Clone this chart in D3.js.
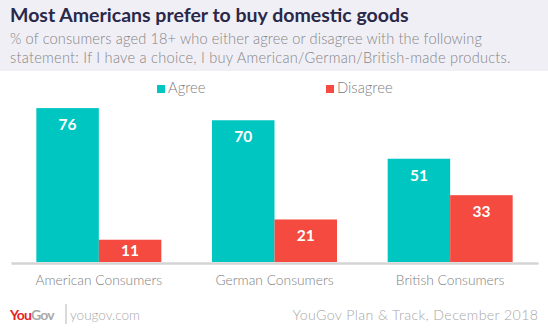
<!DOCTYPE html>
<html><head><meta charset="utf-8">
<script src="https://cdn.jsdelivr.net/npm/d3@7"></script>
<style>
html,body{margin:0;padding:0;background:#fff;}
svg{display:block;font-family:Lato,"Open Sans",sans-serif;}
</style></head>
<body>
<svg id="chart" width="548" height="334"></svg>
<script>
const categories = ["American Consumers", "German Consumers", "British Consumers"];
const seriesNames = ["Agree", "Disagree"];
const agree = [76, 70, 51];
const disagree = [11, 21, 33];
const colors = ["#00c6c2", "#f44a3f"];

const svg = d3.select("#chart");
const W = 548, H = 334;

// header
svg.append("rect").attr("x",0).attr("y",0).attr("width",W).attr("height",71).attr("fill","#f0eff5");
svg.append("text").attr("x",10).attr("y",22).attr("font-size",19.5).attr("font-weight","bold")
  .attr("fill","#2a2848").text("Most Americans prefer to buy domestic goods");
const sub1 = svg.append("text").attr("x",10).attr("y",44).attr("font-size",14.6).attr("font-weight",300).attr("fill","#858585")
  .text("% of consumers aged 18+ who either agree or disagree with the following");
const sub2 = svg.append("text").attr("x",10).attr("y",63).attr("font-size",14.6).attr("font-weight",300).attr("fill","#858585")
  .text("statement: If I have a choice, I buy American/German/British-made products.");
// stretch subtitle lines to reference widths
[[sub1, 472], [sub2, 501]].forEach(([t, w]) => {
  const cur = t.node().getComputedTextLength();
  const n = t.text().length;
  t.attr("letter-spacing", (w - cur) / n);
});

const x0 = d3.scaleBand().domain(categories).range([11, 538]).paddingInner(0.2885).paddingOuter(0.1443);
const x1 = d3.scaleBand().domain(seriesNames).range([0, x0.bandwidth()]);
const y = d3.scaleLinear().domain([0, 100]).range([262, 59.5]);

const data = categories.map((c,i)=>({cat:c, vals:[{s:"Agree",v:agree[i]},{s:"Disagree",v:disagree[i]}]}));

const g = svg.append("g");
const groups = g.selectAll("g.grp").data(data).join("g").attr("class","grp")
  .attr("transform", d=>`translate(${x0(d.cat)},0)`);
groups.selectAll("rect").data(d=>d.vals).join("rect")
  .attr("x", d=>x1(d.s)).attr("width", x1.bandwidth())
  .attr("y", d=>y(d.v)).attr("height", d=>y(0)-y(d.v))
  .attr("fill", d=>colors[seriesNames.indexOf(d.s)]);
groups.selectAll("text").data(d=>d.vals).join("text")
  .attr("x", d=>x1(d.s)+x1.bandwidth()/2)
  .attr("y", d=>{const h=y(0)-y(d.v); return h<30 ? y(d.v)+h/2+5.5 : y(d.v)+22;})
  .attr("text-anchor","middle").attr("font-size",15.5).attr("font-weight","bold")
  .attr("fill","#fff").text(d=>d.v);

// axis
const axis = d3.axisBottom(x0).tickSize(0).tickPadding(12);
const ax = svg.append("g").attr("transform","translate(0,263)").call(axis);
ax.select(".domain").attr("stroke","#d4d4d4").attr("stroke-width",2.5);
ax.selectAll("text").attr("font-size",13.8).attr("font-weight",300).attr("fill","#808080").attr("font-family","Lato,'Open Sans',sans-serif");

// legend
const legX = [157, 326];
seriesNames.forEach((s,i)=>{
  svg.append("rect").attr("x",legX[i]).attr("y",85).attr("width",8).attr("height",8).attr("fill",colors[i]);
  svg.append("text").attr("x",legX[i]+11).attr("y",93).attr("font-size",14.8).attr("font-weight",300).attr("fill","#808080").text(s);
});

// footer
const logo = svg.append("text").attr("x",10).attr("y",320).attr("font-size",14).attr("font-weight","bold").attr("letter-spacing",-0.8);
logo.append("tspan").attr("fill","#e8231f").text("You");
logo.append("tspan").attr("fill","#a9a9a9").text("Gov");
svg.append("line").attr("x1",66).attr("x2",66).attr("y1",304).attr("y2",324).attr("stroke","#b5b5b5").attr("stroke-width",1);
svg.append("text").attr("x",70).attr("y",320).attr("font-size",13.5).attr("font-weight",300).attr("fill","#a8a8a8").text("yougov.com");
const foot = svg.append("text").attr("x",538).attr("y",320).attr("text-anchor","end").attr("font-size",14.2).attr("font-weight",300).attr("fill","#a8a8a8")
  .text("YouGov Plan & Track, December 2018");
{
  const cur = foot.node().getComputedTextLength();
  foot.attr("letter-spacing", (246 - cur) / foot.text().length).attr("x", 538 + (246 - cur) / foot.text().length);
}
</script>
</body></html>
